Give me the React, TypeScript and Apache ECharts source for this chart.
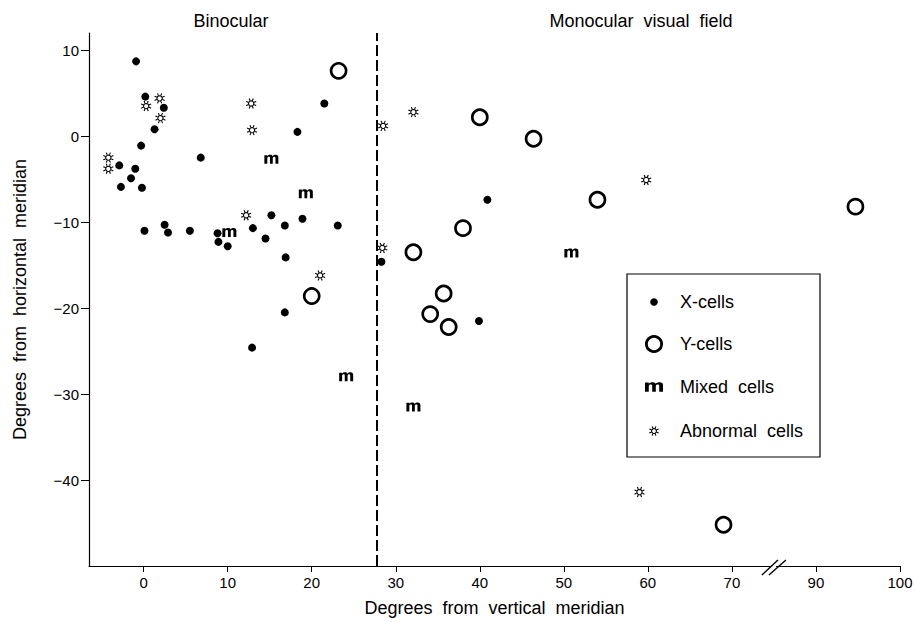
import React, { useEffect, useRef } from "react";
import * as echarts from "echarts";

// ---- data (degrees) ----
const xCellsX = [-0.9, 0.2, 2.4, 1.3, -0.3, -2.9, -1.0, -1.5, -2.7, -0.2, 6.8, 0.1, 2.5, 2.9, 5.5, 8.8, 8.9, 10.0, 13.0, 14.5, 15.2, 16.8, 16.9, 18.9, 18.3, 21.5, 23.1, 28.3, 16.8, 12.9, 40.9, 39.9];
const xCellsY = [8.7, 4.6, 3.3, 0.8, -1.1, -3.4, -3.8, -4.9, -5.9, -6.0, -2.5, -11.0, -10.3, -11.2, -11.0, -11.3, -12.3, -12.8, -10.7, -11.9, -9.2, -10.4, -14.1, -9.6, 0.5, 3.8, -10.4, -14.6, -20.5, -24.6, -7.4, -21.5];

const yCellsX = [23.2, 20.0, 40.0, 46.4, 54.0, 38.0, 32.1, 35.7, 34.1, 36.3, 94.7, 69.0];
const yCellsY = [7.6, -18.6, 2.2, -0.3, -7.4, -10.7, -13.5, -18.3, -20.7, -22.2, -8.2, -45.2];

const mixedX = [15.2, 19.3, 10.2, 24.1, 50.9, 32.1];
const mixedY = [-2.7, -6.7, -11.2, -28.0, -13.6, -31.5];

const abnormalX = [-4.2, -4.2, 0.3, 1.9, 2.0, 12.8, 12.9, 12.2, 21.0, 28.5, 28.4, 32.1, 59.8, 59.0];
const abnormalY = [-2.5, -3.8, 3.5, 4.4, 2.1, 3.8, 0.7, -9.2, -16.2, 1.2, -13.0, 2.8, -5.1, -41.4];

const meridianX = 27.7; // boundary binocular / monocular
const xTickValues = [0, 10, 20, 30, 40, 50, 60, 70, 90, 100];
const yTickValues = [-40, -30, -20, -10, 0, 10];
const breakStart = 70;
const breakEnd = 90;
const legendNames = ["X-cells", "Y-cells", "Mixed cells", "Abnormal cells"];
const regionTitles = ["Binocular", "Monocular  visual  field"];

// axis break: values beyond the break are shifted left so 70..90 takes the room of 10 units
const breakShift = breakEnd - breakStart - 10;
const toAxis = (x: number) => (x >= breakEnd ? x - breakShift : x);
const fromAxis = (v: number) => (v > breakStart ? v + breakShift : v);

const pairs = (xs: number[], ys: number[]) => xs.map((x, i) => [toAxis(x), ys[i]]);

// ---- glyphs ----
const M_PATH =
  "M0,9 L0,0.3 L2.3,0.3 L2.3,1.4 C2.9,0.5 3.6,0 4.6,0 C5.6,0 6.2,0.5 6.5,1.4 C7.1,0.5 7.9,0 8.9,0 C10.3,0 11,0.9 11,2.6 L11,9 L8.7,9 L8.7,3.2 C8.7,2.4 8.4,2 7.8,2 C7.1,2 6.6,2.6 6.6,3.5 L6.6,9 L4.4,9 L4.4,3.2 C4.4,2.4 4.1,2 3.5,2 C2.8,2 2.3,2.6 2.3,3.5 L2.3,9 Z";

function makeStarPath() {
  const c = 7;
  let d = "";
  for (let i = 0; i <= 16; i++) {
    const a = (i / 16) * Math.PI * 2;
    d += (i === 0 ? "M" : "L") + (c + 3.4 * Math.cos(a)).toFixed(2) + "," + (c + 3.4 * Math.sin(a)).toFixed(2) + " ";
  }
  d += "Z ";
  for (let i = 0; i < 8; i++) {
    const a = (i / 8) * Math.PI * 2 + Math.PI / 8;
    d +=
      "M" + (c + 4.2 * Math.cos(a)).toFixed(2) + "," + (c + 4.2 * Math.sin(a)).toFixed(2) +
      " L" + (c + 7 * Math.cos(a)).toFixed(2) + "," + (c + 7 * Math.sin(a)).toFixed(2) + " ";
  }
  return d;
}
const STAR_PATH = makeStarPath();

const FONT = "'Liberation Sans', Arial, Helvetica, sans-serif";
const BIG = 18;
const TICK = 15;

export default function App() {
  const ref = useRef<HTMLDivElement>(null);

  useEffect(() => {
    if (!ref.current) return;
    try {
      echarts.graphic.registerShape("mGlyph", (echarts.graphic as any).extendPath(M_PATH, {}));
      echarts.graphic.registerShape("starGlyph", (echarts.graphic as any).extendPath(STAR_PATH, {}));
    } catch (e) {
      // already registered
    }
    const chart = echarts.init(ref.current, undefined, { renderer: "svg" });

    const option: any = {
      animation: false,
      backgroundColor: "#fff",
      textStyle: { fontFamily: FONT, color: "#000" },
      grid: { left: 89, right: 15, top: 33, bottom: 56, containLabel: false, outerBoundsMode: "none" },
      xAxis: {
        type: "value",
        min: -6.5,
        max: toAxis(100),
        name: "Degrees  from  vertical  meridian",
        nameLocation: "middle",
        nameGap: 33,
        nameTextStyle: { fontSize: BIG, color: "#000", fontFamily: FONT },
        axisLine: { onZero: false, lineStyle: { color: "#000", width: 1.2 } },
        axisTick: {
          show: true,
          length: 6,
          lineStyle: { color: "#000", width: 1 },
          customValues: xTickValues.map(toAxis),
        },
        axisLabel: {
          fontSize: TICK,
          color: "#000",
          fontFamily: FONT,
          margin: 9,
          customValues: xTickValues.map(toAxis),
          formatter: (v: number) => String(Math.round(fromAxis(v))),
        },
        splitLine: { show: false },
      },
      yAxis: {
        type: "value",
        min: -50,
        max: 12,
        name: "Degrees  from  horizontal  meridian",
        nameLocation: "middle",
        nameGap: 60,
        nameTextStyle: { fontSize: BIG, color: "#000", fontFamily: FONT },
        axisLine: { onZero: false, lineStyle: { color: "#000", width: 1.2 } },
        axisTick: {
          show: true,
          length: 8,
          lineStyle: { color: "#000", width: 1 },
          customValues: yTickValues,
        },
        axisLabel: {
          fontSize: TICK,
          color: "#000",
          fontFamily: FONT,
          margin: 10,
          customValues: yTickValues,
          formatter: (v: number) => (v < 0 ? "\u2212" + Math.abs(v) : String(v)),
        },
        splitLine: { show: false },
      },
      series: [
        {
          name: legendNames[0],
          type: "scatter",
          symbol: "circle",
          symbolSize: 8,
          itemStyle: { color: "#000", opacity: 1 },
          data: pairs(xCellsX, xCellsY),
          markLine: {
            silent: true,
            symbol: ["none", "none"],
            label: { show: false },
            lineStyle: { color: "#000", type: [11, 4], width: 2, opacity: 1 },
            data: [{ xAxis: toAxis(meridianX) }],
          },
        },
        {
          name: legendNames[1],
          type: "scatter",
          symbol: "circle",
          symbolSize: 15,
          itemStyle: { color: "#fff", borderColor: "#000", borderWidth: 2.7, opacity: 1 },
          data: pairs(yCellsX, yCellsY),
        },
        {
          name: legendNames[2],
          type: "scatter",
          symbol: "path://" + M_PATH,
          symbolSize: [14, 9],
          itemStyle: { color: "#000", opacity: 1 },
          data: pairs(mixedX, mixedY),
        },
        {
          name: legendNames[3],
          type: "scatter",
          symbol: "path://" + STAR_PATH,
          symbolSize: 10,
          itemStyle: { color: "#fff", borderColor: "#000", borderWidth: 1.1, opacity: 1 },
          data: pairs(abnormalX, abnormalY),
        },
      ],
    };
    chart.setOption(option);

    const brk = chart.convertToPixel({ xAxisIndex: 0, yAxisIndex: 0 }, [(breakStart + toAxis(breakEnd)) / 2, -50]) as number[];
    const bx = brk[0];
    const by = brk[1];

    const lx = 627, ly = 274, lw = 193, lh = 183;
    const rowY = [302, 344, 387, 431];
    const iconX = 654;
    const textX = 680;

    const graphic: any[] = [
      { type: "text", x: 231, y: 21, style: { text: regionTitles[0], fontSize: BIG, fontFamily: FONT, fill: "#000", align: "center", verticalAlign: "middle" } },
      { type: "text", x: 641, y: 21, style: { text: regionTitles[1], fontSize: BIG, fontFamily: FONT, fill: "#000", align: "center", verticalAlign: "middle" } },
      // axis break marks
      { type: "rect", shape: { x: bx - 3, y: by - 2, width: 5, height: 4 }, style: { fill: "#fff" }, z: 10 },
      { type: "line", shape: { x1: bx - 12, y1: by + 9, x2: bx + 4, y2: by - 6 }, style: { stroke: "#000", lineWidth: 1.4 }, z: 11 },
      { type: "line", shape: { x1: bx - 5, y1: by + 9, x2: bx + 12, y2: by - 6 }, style: { stroke: "#000", lineWidth: 1.4 }, z: 11 },
      // legend
      { type: "rect", shape: { x: lx, y: ly, width: lw, height: lh }, style: { fill: "#fff", stroke: "#000", lineWidth: 1.2 }, z: 20 },
      { type: "circle", shape: { cx: iconX, cy: rowY[0], r: 3.8 }, style: { fill: "#000" }, z: 21 },
      { type: "circle", shape: { cx: iconX, cy: rowY[1], r: 7.6 }, style: { fill: "#fff", stroke: "#000", lineWidth: 2.8 }, z: 21 },
      { type: "mGlyph", x: iconX - 9, y: rowY[2] - 4.7, scaleX: 18 / 11, scaleY: 1.05, style: { fill: "#000" }, z: 21 },
      { type: "starGlyph", x: iconX - 5, y: rowY[3] - 5, scaleX: 10 / 14, scaleY: 10 / 14, style: { fill: "#fff", stroke: "#000", lineWidth: 1.1, strokeNoScale: true }, z: 21 },
    ];
    legendNames.forEach((n, i) => {
      graphic.push({
        type: "text",
        x: textX,
        y: rowY[i],
        z: 21,
        style: { text: n.replace(" ", "  "), fontSize: BIG, fontFamily: FONT, fill: "#000", align: "left", verticalAlign: "middle" },
      });
    });
    chart.setOption({ graphic });

    return () => chart.dispose();
  }, []);

  return <div ref={ref} style={{ position: "fixed", left: 0, top: 0, width: 915, height: 622, background: "#fff" }} />;
}
